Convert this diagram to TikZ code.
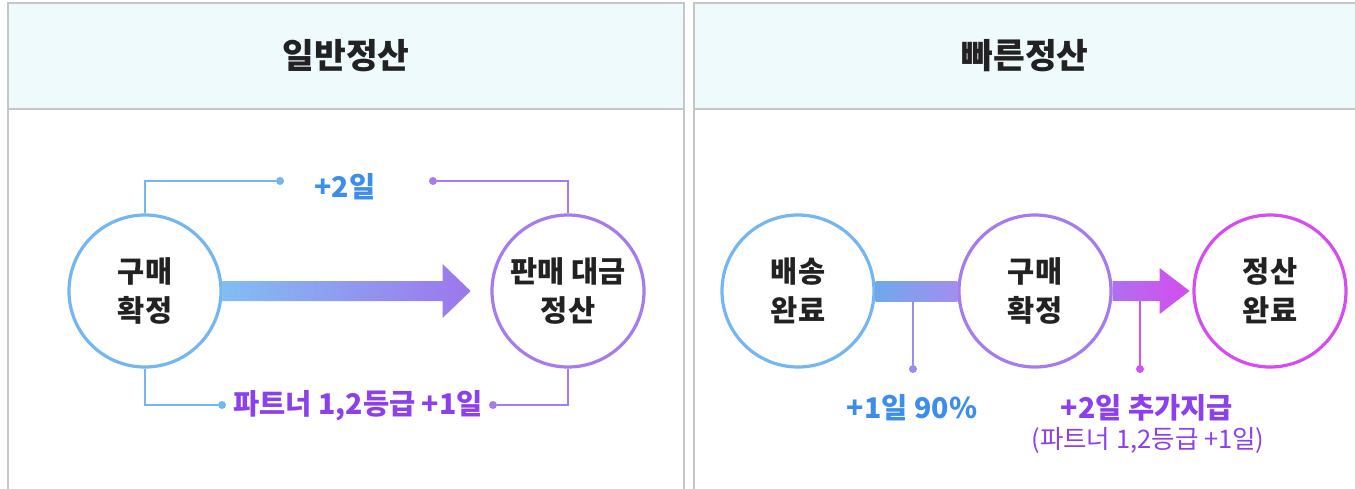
\documentclass[tikz,border=0pt]{standalone}
\usepackage{fontspec}
\setmainfont{Noto Sans CJK KR}
\usetikzlibrary{calc}
\definecolor{panelgray}{HTML}{C6C6C6}
\definecolor{headfill}{HTML}{EFFAFD}
\definecolor{titletext}{HTML}{222222}
\definecolor{ringblue}{HTML}{74B6F2}
\definecolor{ringpurple}{HTML}{A67CEC}
\definecolor{ringmagenta}{HTML}{D64CF0}
\definecolor{textblue}{HTML}{3C8EEA}
\definecolor{textpurple}{HTML}{8B40EB}
\definecolor{barblue}{HTML}{6FA8E9}
\definecolor{barlilac}{HTML}{A28EEF}

\tikzset{
  stage/.style={circle, draw=#1, line width=3.2pt, minimum size=152pt, inner sep=0pt,
    align=center, text=titletext, font=\fontsize{29.5}{39}\selectfont\bfseries},
  title/.style={text=titletext, font=\fontsize{34.5}{38}\selectfont\bfseries},
  lbl/.style={font=\fontsize{28.5}{32}\selectfont\bfseries},
  dot/.style={circle, fill=#1, inner sep=0pt, minimum size=8pt},
  link/.style={draw=#1, line width=1.6pt},
}

\begin{document}
\begin{tikzpicture}[x=1pt, y=-1pt]
\useasboundingbox (0,0) rectangle (1355,488);
\clip (0,0) rectangle (1355,488);

% panels
\draw[panelgray, line width=1.2pt] (8,3) rectangle (684,520);
\draw[panelgray, line width=1.2pt, fill=headfill] (8,3) rectangle (684,109);
\draw[panelgray, line width=1.2pt] (694,3) rectangle (1380,520);
\draw[panelgray, line width=1.2pt, fill=headfill] (694,3) rectangle (1380,109);
\node[title] (normal) at (346,56) {일반정산};
\node[title] (fast) at (1025,56) {빠른정산};

% left panel
\node[stage=ringblue] (buy) at (145,291) {구매\\확정};
\node[stage=ringpurple] (pay) at (568,291) {판매 대금\\정산};

\shade[left color=ringblue!90, right color=ringpurple!95!blue]
  ($(buy.east)+(0,-10)$) -- ++(220,0) -- ++(0,-17) -- ++(28,27)
  -- ++(-28,27) -- ++(0,-17) -- ++(-220,0) -- cycle;

\node[lbl, text=textblue] (plustwo) at (345,187) {+2일};
\node[lbl, text=textpurple] (partner) at (358,406) {파트너 1,2등급 +1일};

\node[dot=ringblue] (tl) at (280,181) {};
\node[dot=ringpurple] (tr) at (433,181) {};
\node[dot=ringblue] (bl) at (222,405) {};
\node[dot=ringpurple] (br) at (493,405) {};
\draw[link=ringblue] (buy.north) |- (tl);
\draw[link=ringpurple] (pay.north) |- (tr);
\draw[link=ringblue] (buy.south) |- (bl);
\draw[link=ringpurple] (pay.south) |- (br);

% right panel
\node[stage=ringblue] (ship) at (798,291) {배송\\완료};
\node[stage=ringpurple] (confirm) at (1035,291) {구매\\확정};
\node[stage=ringmagenta] (done) at (1270,291) {정산\\완료};

\shade[left color=barblue, right color=barlilac]
  ($(ship.east)+(0,-10)$) rectangle ($(confirm.west)+(0,10)$);
\shade[left color=ringpurple!90!magenta, right color=ringmagenta]
  ($(confirm.east)+(0,-10)$) -- ++(47,0) -- ++(0,-13) -- ++(30,23)
  -- ++(-30,23) -- ++(0,-13) -- ++(-47,0) -- cycle;

\node[dot=ringpurple!70!ringblue] (d1) at (913,369) {};
\node[dot=ringmagenta!85!ringpurple] (d2) at (1140,369) {};
\draw[link=ringpurple!70!ringblue] (d1) -- (913,301);
\draw[link=ringmagenta!85!ringpurple] (d2) -- (1140,301);

\node[lbl, text=textblue] (early) at (912,408) {+1일 90\%};
\node[lbl, text=textpurple] (extra) at (1147,408) {+2일 추가지급};
\node[text=textpurple, font=\fontsize{25.5}{28}\selectfont] (extranote) at (1148,440) {(파트너 1,2등급 +1일)};
\end{tikzpicture}
\end{document}
